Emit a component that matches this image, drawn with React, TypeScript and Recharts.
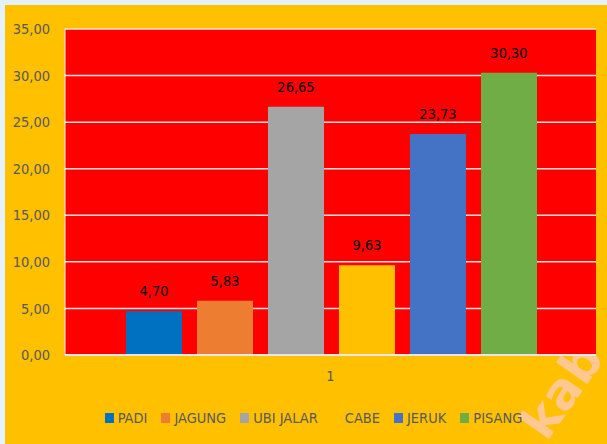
import React from "react"
import { BarChart, Bar, XAxis, YAxis, CartesianGrid, Legend, LabelList } from "recharts"

const categories = ["1"]
const seriesNames = ["PADI", "JAGUNG", "UBI JALAR", "CABE", "JERUK", "PISANG"]
const seriesValues = [4.7, 5.83, 26.65, 9.63, 23.73, 30.3]
const seriesColors = ["#0070C0", "#ED7D31", "#A5A5A5", "#FFC000", "#4472C4", "#70AD47"]
const yTicks = [0, 5, 10, 15, 20, 25, 30, 35]

const data = categories.map((cat) => {
  const row: Record<string, string | number> = { cat }
  seriesNames.forEach((name, i) => {
    row[name] = seriesValues[i]
  })
  return row
})

const FONT = "'DejaVu Sans Condensed', 'Liberation Sans', sans-serif"

const fmt = (v: number) => v.toFixed(2).replace(".", ",")

function LegendContent() {
  return (
    <div style={{ display: "flex", justifyContent: "center", paddingLeft: 40, fontFamily: FONT, fontSize: 14.5, color: "#595959" }}>
      {seriesNames.map((name, i) => (
        <div key={name} style={{ display: "flex", alignItems: "center", marginRight: 14 }}>
          <span style={{ display: "inline-block", width: 9, height: 10, background: seriesColors[i], marginRight: 4 }} />
          <span>{name}</span>
        </div>
      ))}
    </div>
  )
}

export default function App() {
  return (
    <div style={{ position: "absolute", left: 0, top: 0, width: 607, height: 444, background: "#E4F1F9", overflow: "hidden" }}>
      <div style={{ position: "absolute", left: 5, top: 5, width: 602, height: 439, background: "#FFC000", overflow: "hidden" }}>
        {/* watermark, drawn first so the legend sits on top */}
        <div
          style={{
            position: "absolute",
            left: 548,
            top: 392,
            fontFamily: "'DejaVu Sans', sans-serif",
            fontWeight: "bold",
            fontSize: 50,
            lineHeight: "50px",
            color: "#FFC890",
            transform: "rotate(-55deg)",
            transformOrigin: "left bottom",
            pointerEvents: "none",
          }}
        >
          kab
        </div>
        <BarChart
          width={602}
          height={439}
          data={data}
          margin={{ top: 24, right: 11, left: 0, bottom: 18 }}
          barGap={15}
          barCategoryGap={61}
        >
          <CartesianGrid vertical={false} fill="#FF0000" stroke="#FFE2E2" strokeWidth={1.5} />
          <XAxis
            dataKey="cat"
            axisLine={{ stroke: "#E6E6E6", strokeWidth: 2 }}
            tickLine={false}
            height={55}
            tickMargin={10}
            tick={{ fill: "#595959", fontSize: 14.5, fontFamily: FONT }}
          />
          <YAxis
            width={60}
            domain={[0, 35]}
            ticks={yTicks}
            axisLine={{ stroke: "#F5F5F5" }}
            tickLine={false}
            tickMargin={9}
            tickFormatter={fmt}
            tick={{ fill: "#595959", fontSize: 14.5, fontFamily: FONT }}
          />
          <YAxis
            yAxisId="right"
            orientation="right"
            width={0}
            domain={[0, 35]}
            axisLine={{ stroke: "#E6E6E6", strokeWidth: 2 }}
            tickLine={false}
            tick={false}
          />
          <Legend verticalAlign="bottom" content={<LegendContent />} />
          {seriesNames.map((name, i) => (
            <Bar key={name} dataKey={name} fill={seriesColors[i]} isAnimationActive={false}>
              <LabelList
                dataKey={name}
                position="top"
                offset={15}
                formatter={(v: number) => fmt(v)}
                style={{ fill: "#000000", fontSize: 14.5, fontFamily: FONT }}
              />
            </Bar>
          ))}
        </BarChart>
      </div>
    </div>
  )
}
